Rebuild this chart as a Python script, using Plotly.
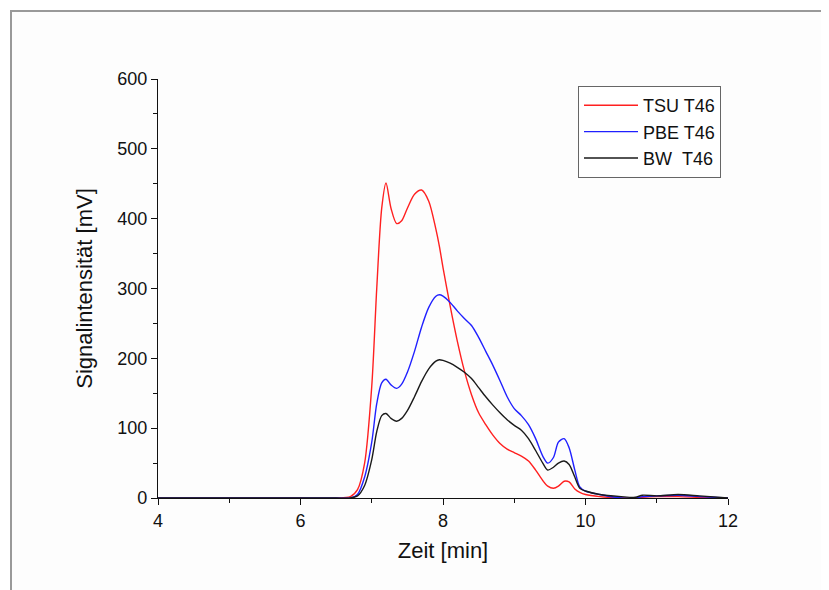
import plotly.graph_objects as go

# Retention time [min]
zeit = [4.0, 5.0, 6.0, 6.5, 6.7, 6.8, 6.9, 7.0, 7.07, 7.14, 7.2, 7.27, 7.35, 7.42, 7.5,
        7.6, 7.7, 7.8, 7.9, 7.95, 8.0, 8.1, 8.2, 8.3, 8.4, 8.5, 8.6, 8.7, 8.8, 8.9, 9.0,
        9.1, 9.2, 9.3, 9.4, 9.47, 9.55, 9.62, 9.7, 9.77, 9.85, 9.92, 10.0, 10.2, 10.5,
        10.7, 10.8, 11.0, 11.3, 11.6, 12.0]

tsu_t46 = [0, 0, 0, 0, 2, 12, 50, 160, 300, 415, 451, 415, 393, 397, 415,
           435, 441, 425, 385, 360, 330, 275, 225, 182, 148, 122, 105, 90, 78, 70, 65,
           60, 53, 40, 25, 17, 14, 17, 24, 23, 13, 8, 5, 2, 0,
           0, 1, 2, 2, 1, 0]

pbe_t46 = [0, 0, 0, 0, 0, 5, 30, 80, 135, 165, 170, 162, 157, 163, 180,
           210, 245, 273, 289, 291, 289, 280, 268, 257, 247, 230, 210, 190, 168, 145, 128,
           118, 105, 85, 60, 50, 58, 80, 85, 72, 40, 16, 10, 5, 0,
           0, 2, 3, 4, 2, 0]

bw_t46 = [0, 0, 0, 0, 0, 3, 18, 55, 95, 118, 121, 114, 110, 114, 125,
          145, 167, 185, 196, 198, 197, 193, 187, 180, 171, 158, 145, 133, 122, 112, 104,
          97, 85, 68, 50, 40, 44, 50, 53, 48, 30, 14, 10, 5, 2,
          1, 4, 3, 5, 3, 0]

series = [
    ("TSU T46", tsu_t46, "#ff2020"),
    ("PBE T46", pbe_t46, "#2020ff"),
    ("BW\u00a0\u00a0T46", bw_t46, "#1a1a1a"),
]

fig = go.Figure()
for name, vals, col in series:
    fig.add_trace(go.Scatter(x=zeit, y=vals, mode="lines", name=name,
                             line=dict(color=col, width=1.4, shape="spline", smoothing=0.8)))

OFF = 8  # page offset of the figure in the browser
W, H = 829, 590
L, T = 158 - OFF, 79 - OFF
pw, ph = 570, 419
R, B = W - L - pw, H - T - ph

def px(xp):
    return (xp - OFF - L) / pw

def py(yp):
    return (T + ph - (yp - OFF)) / ph

# outer frame
fig.add_shape(type="rect", xref="paper", yref="paper",
              x0=px(11), x1=px(W + 30), y0=py(H + 30), y1=py(11),
              line=dict(color="#999999", width=2), fillcolor="#fdfdfd", layer="below")

font = "Liberation Sans, Arial, sans-serif"
fig.update_layout(
    width=W, height=H,
    margin=dict(l=L, r=R, t=T, b=B),
    paper_bgcolor="white", plot_bgcolor="rgba(0,0,0,0)",
    font=dict(family=font, size=18, color="#111111"),
    showlegend=True,
    legend=dict(x=px(578), y=py(86), xanchor="left", yanchor="top",
                bordercolor="#666666", borderwidth=1, bgcolor="white",
                font=dict(size=18, family=font), tracegroupgap=0, itemwidth=54),
    xaxis=dict(range=[4, 12], tickvals=[4, 6, 8, 10, 12], ticks="outside", ticklen=6,
               tickwidth=1.2, tickcolor="#111", showline=True, linecolor="#111", linewidth=1.2,
               showgrid=False, zeroline=False, tickfont=dict(size=18),
               minor=dict(tickvals=[5, 7, 9, 11], ticks="outside", ticklen=4, tickcolor="#111", showgrid=False),
               title=dict(text="Zeit [min]", font=dict(size=22), standoff=12)),
    yaxis=dict(range=[0, 600], tickvals=[0, 100, 200, 300, 400, 500, 600], ticks="outside", ticklen=6,
               tickwidth=1.2, tickcolor="#111", showline=True, linecolor="#111", linewidth=1.2,
               showgrid=False, zeroline=False, tickfont=dict(size=18),
               minor=dict(tickvals=[50, 150, 250, 350, 450, 550], ticks="outside", ticklen=4, tickcolor="#111", showgrid=False),
               title=dict(text="Signalintensität [mV]", font=dict(size=22), standoff=18)),
)

fig.write_html("out.html")
